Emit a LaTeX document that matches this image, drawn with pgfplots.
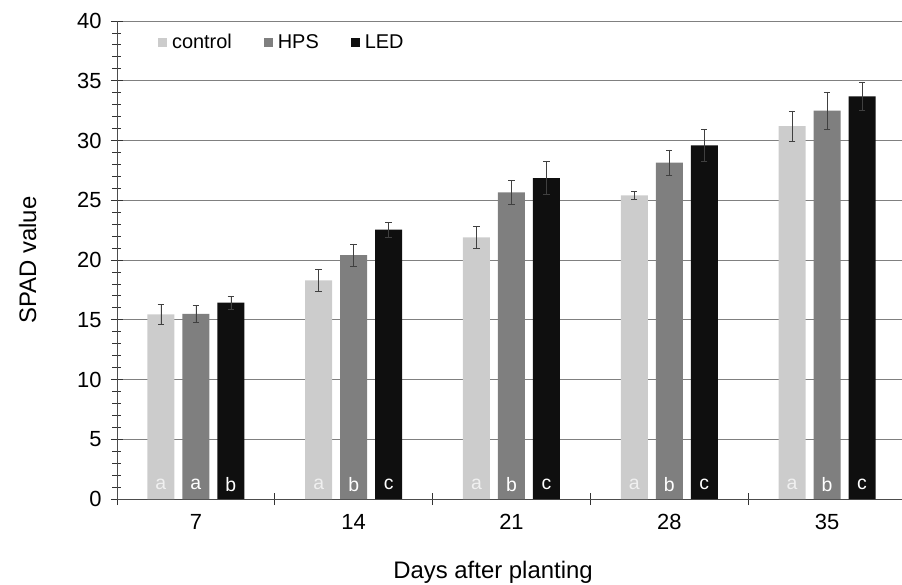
\documentclass[border=0pt]{standalone}
\usepackage{pgfplots}
\pgfplotsset{compat=1.18}
\usepackage{fontspec}
\setmainfont{Liberation Sans}
\definecolor{cctrl}{HTML}{CCCCCC}
\definecolor{chps}{HTML}{7F7F7F}
\definecolor{cled}{HTML}{0F0F0F}
\definecolor{gridc}{HTML}{808080}
\definecolor{errc}{HTML}{404040}
\begin{document}
\begin{tikzpicture}
\begin{axis}[
  name=ax, at={(0,0)}, anchor=south west,
  scale only axis, width=785bp, height=478bp,
  xmin=-0.5, xmax=4.475, ymin=0, ymax=40,
  axis x line*=bottom, axis y line*=left,
  axis line style={color=black!70, line width=0.8pt},
  ybar, bar width=27bp,
  ytick={0,5,...,40}, minor y tick num=4,
  ymajorgrids, grid style={color=gridc, line width=0.8pt},
  xtick={-0.5,0.5,1.5,2.5,3.5}, xticklabels={},
  extra x ticks={0,1,2,3,4}, extra x tick labels={7,14,21,28,35},
  extra x tick style={major tick length=0pt, grid=none,
     tick label style={yshift=-12bp}},
  tick align=center, major tick length=12bp, minor tick length=9bp,
  tick style={color=black!80, line width=0.8pt},
  /pgf/number format/assume math mode=true,
  tick label style={font=\fontsize{22}{26}\selectfont},
  yticklabel style={xshift=-6bp},
  xlabel={Days after planting}, ylabel={SPAD value},
  label style={font=\fontsize{24}{28}\selectfont},
  xlabel style={at={(axis description cs:0.479,-0.153)}, anchor=center},
  ylabel style={at={(axis description cs:-0.114,0.5)}, anchor=center, rotate=0},
  legend style={at={(axis cs:-0.26,38.2)}, anchor=west, draw=none, fill=none,
     font=\fontsize{20}{23}\selectfont, legend columns=3,
     /tikz/every odd column/.append style={column sep=3bp},
     /tikz/every even column/.append style={column sep=30bp}},
  legend cell align=left,
  legend image code/.code={\fill[#1] (0bp,-4.5bp) rectangle (9bp,4.5bp);},
  error bars/y dir=both, error bars/y explicit,
  error bars/error bar style={color=errc, line width=0.6pt},
  error bars/error mark options={rotate=90, mark size=3.2bp, color=errc, line width=0.6pt},
]
\addplot[fill=cctrl, draw=none, bar shift=-35bp] coordinates {
 (0,15.45) +- (0,0.85)
 (1,18.3) +- (0,0.9)
 (2,21.9) +- (0,0.93)
 (3,25.4) +- (0,0.36)
 (4,31.2) +- (0,1.27)
};
\addplot[fill=chps, draw=none, bar shift=0bp] coordinates {
 (0,15.5) +- (0,0.7)
 (1,20.4) +- (0,0.95)
 (2,25.66) +- (0,1.0)
 (3,28.15) +- (0,1.06)
 (4,32.5) +- (0,1.57)
};
\addplot[fill=cled, draw=none, bar shift=35bp] coordinates {
 (0,16.43) +- (0,0.53)
 (1,22.54) +- (0,0.63)
 (2,26.86) +- (0,1.4)
 (3,29.6) +- (0,1.3)
 (4,33.7) +- (0,1.2)
};
\legend{control,HPS,LED}
\begin{scope}[every node/.style={font=\fontsize{19.5}{22}\selectfont, anchor=center}]
\node[text=white!94!black, xshift=-35bp] at (axis cs:0,1.25) {a};
\node[text=white, xshift=0bp] at (axis cs:0,1.25) {a};
\node[text=white, xshift=35bp] at (axis cs:0,1.25) {b};
\node[text=white!94!black, xshift=-35bp] at (axis cs:1,1.25) {a};
\node[text=white, xshift=0bp] at (axis cs:1,1.25) {b};
\node[text=white, xshift=35bp] at (axis cs:1,1.25) {c};
\node[text=white!94!black, xshift=-35bp] at (axis cs:2,1.25) {a};
\node[text=white, xshift=0bp] at (axis cs:2,1.25) {b};
\node[text=white, xshift=35bp] at (axis cs:2,1.25) {c};
\node[text=white!94!black, xshift=-35bp] at (axis cs:3,1.25) {a};
\node[text=white, xshift=0bp] at (axis cs:3,1.25) {b};
\node[text=white, xshift=35bp] at (axis cs:3,1.25) {c};
\node[text=white!94!black, xshift=-35bp] at (axis cs:4,1.25) {a};
\node[text=white, xshift=0bp] at (axis cs:4,1.25) {b};
\node[text=white, xshift=35bp] at (axis cs:4,1.25) {c};
\end{scope}
\end{axis}
\pgfresetboundingbox
\path (-117bp,-86bp) rectangle (785bp,499bp);
\end{tikzpicture}
\end{document}
